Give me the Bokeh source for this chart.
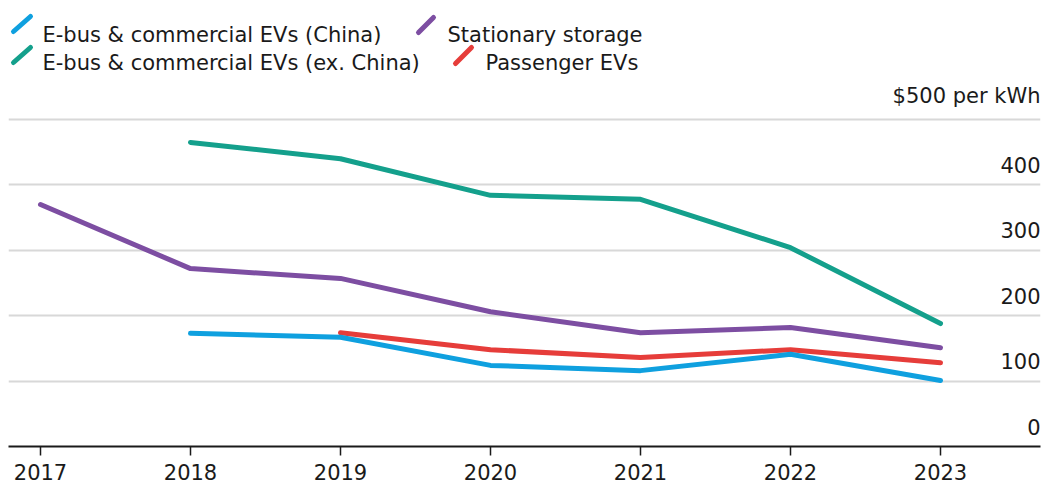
import numpy as np
from bokeh.plotting import figure
from bokeh.models import ColumnDataSource, Label, Arrow, FixedTicker, Range1d
from bokeh.core.properties import value
from bokeh.embed import file_html
from bokeh.resources import INLINE

years = [2017, 2018, 2019, 2020, 2021, 2022, 2023]
ebus_china = [np.nan, 173, 167, 124, 116, 141, 101]
ebus_ex_china = [np.nan, 465, 440, 384, 378, 304, 188]
stationary = [370, 272, 257, 206, 174, 182, 151]
passenger = [np.nan, np.nan, 174, 148, 136, 148, 128]

series_names = ["E-bus & commercial EVs (China)", "E-bus & commercial EVs (ex. China)",
                "Stationary storage", "Passenger EVs"]
series_colors = ["#0fa0df", "#14a08c", "#7d4ea2", "#e63d3a"]

y_ticks = [0, 100, 200, 300, 400, 500]
y_tick_labels = ["0", "100", "200", "300", "400", "$500 per kWh"]

FONT = "DejaVu Sans"
LEFT = 8
FW, FH = 1032, 446
px_per_year = 150.0
x0 = 2017 - (40 - LEFT) / px_per_year
x1 = x0 + FW / px_per_year
y_top = FH / 0.654

p = figure(frame_width=FW, frame_height=FH, output_backend="svg", toolbar_location=None,
           x_range=Range1d(x0, x1), y_range=Range1d(0, y_top),
           min_border_left=LEFT, min_border_right=5, min_border_top=0, min_border_bottom=44)
p.outline_line_color = None
p.background_fill_color = "white"
p.border_fill_color = "white"

src = ColumnDataSource(dict(x=years, a=ebus_china, b=ebus_ex_china, c=stationary, d=passenger))
order = [("c", series_colors[2]), ("b", series_colors[1]), ("d", series_colors[3]), ("a", series_colors[0])]
for col, color in order:
    p.line("x", col, source=src, line_color=color, line_width=5, line_cap="round", line_join="round")

# axes
p.yaxis.visible = False
p.ygrid.ticker = FixedTicker(ticks=y_ticks)
p.ygrid.grid_line_color = "#d8d8d8"
p.ygrid.grid_line_width = 2
p.xgrid.visible = False

xa = p.xaxis[0]
xa.ticker = FixedTicker(ticks=years)
xa.axis_line_color = "#1a1a1a"
xa.axis_line_width = 2
xa.major_tick_line_color = "#1a1a1a"
xa.major_tick_line_width = 1.5
xa.major_tick_out = 9
xa.major_tick_in = 0
xa.minor_tick_line_color = None
xa.major_label_text_font = FONT
xa.major_label_text_font_size = "21px"
xa.major_label_text_color = "#1a1a1a"
xa.major_label_standoff = 8

# y tick labels above gridlines
lab_src = ColumnDataSource(dict(y=y_ticks, t=y_tick_labels, x=[x1] * len(y_ticks)))
p.text("x", "y", text="t", source=lab_src, text_align="right", text_baseline="bottom",
       x_offset=0, y_offset=-12, text_font=value(FONT), text_font_size="21px", text_color="#1a1a1a")

# legend (page coords -> frame screen coords)
legend_items = [
    (series_names[0], series_colors[0], 13, 31, 30, 16, 42, 34),
    (series_names[2], series_colors[2], 418, 32, 433, 17, 447, 34),
    (series_names[1], series_colors[1], 13, 62, 30, 47, 42, 62),
    (series_names[3], series_colors[3], 455, 63, 471, 47, 485, 62),
]
for name, color, xs, ys, xe, ye, tx, ty in legend_items:
    p.add_layout(Arrow(x_start=xs - LEFT, y_start=FH - ys, x_end=xe - LEFT, y_end=FH - ye,
                       start_units="screen", end_units="screen", end=None,
                       line_color=color, line_width=5, line_cap="round"))
    p.add_layout(Label(x=tx - LEFT, y=FH - ty, x_units="screen", y_units="screen", text=name,
                       text_font=FONT, text_font_size="21px", text_color="#1a1a1a",
                       text_baseline="alphabetic", text_align="left"))

open("out.html", "w").write(file_html(p, INLINE))
